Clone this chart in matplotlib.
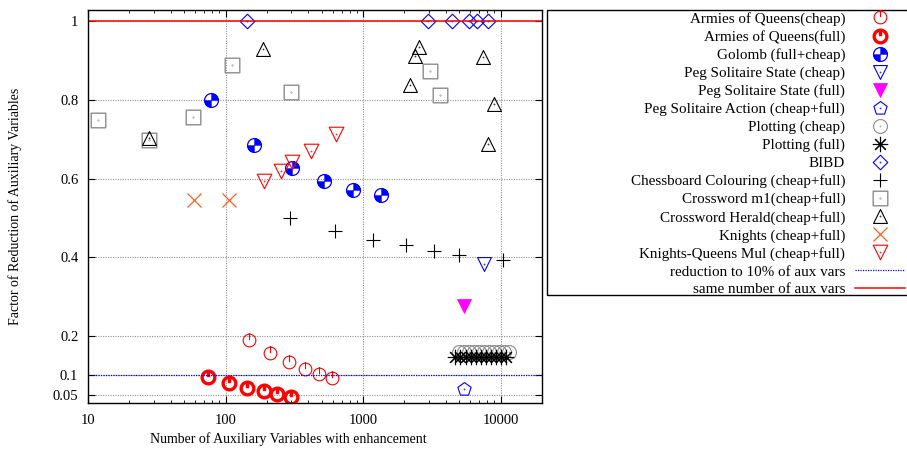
import numpy as np
import matplotlib
matplotlib.use("Agg")
import matplotlib.pyplot as plt
from matplotlib.path import Path
from matplotlib.patches import Rectangle
from matplotlib.ticker import FixedLocator, FixedFormatter, LogLocator, NullFormatter

plt.rcParams['font.family'] = ['Liberation Serif', 'DejaVu Serif']
plt.rcParams['font.size'] = 10

# ---- data ----
aoq_cheap_x = [149, 212, 291, 380, 481, 598]
aoq_cheap_y = [0.191, 0.158, 0.135, 0.117, 0.104, 0.094]

aoq_full_x = [75, 106, 144, 191, 238, 301]
aoq_full_y = [0.097, 0.081, 0.069, 0.061, 0.053, 0.046]

golomb_x = [79, 162, 306, 524, 851, 1340]
golomb_y = [0.799, 0.684, 0.626, 0.593, 0.570, 0.557]

peg_state_cheap_x = [7530]
peg_state_cheap_y = [0.384]

peg_state_full_x = [5390]
peg_state_full_y = [0.277]

peg_action_x = [5390]
peg_action_y = [0.066]

plot_cheap_x = [4950, 5390, 5860, 6370, 6930, 7530, 8190, 8910, 9680, 10540, 11460]
plot_cheap_y = [0.160] * 11

plot_full_x = [4630, 5040, 5570, 6060, 6590, 7160, 7790, 8470, 9210, 10010, 10890]
plot_full_y = [0.147] * 11

bibd_x = [144, 2944, 4405, 5860, 6700, 8050]
bibd_y = [1.0, 1.0, 1.0, 1.0, 1.0, 1.0]

chess_x = [296, 630, 1190, 2037, 3260, 4950, 10350]
chess_y = [0.501, 0.466, 0.443, 0.430, 0.417, 0.407, 0.394]

cw_m1_x = [11.8, 27.8, 58.2, 112, 301, 3045, 3600]
cw_m1_y = [0.748, 0.697, 0.756, 0.888, 0.819, 0.873, 0.812]

cw_herald_x = [27.8, 188, 2530, 2370, 2180, 7410, 8910, 8050]
cw_herald_y = [0.702, 0.929, 0.934, 0.911, 0.837, 0.908, 0.789, 0.687]

knights_x = [59.2, 106]
knights_y = [0.545, 0.545]

kq_x = [191, 255, 306, 421, 640]
kq_y = [0.593, 0.618, 0.641, 0.669, 0.712]

x_ticks = [10, 100, 1000, 10000]
x_labels = ['10', '100', '1000', '10000']
y_ticks = [0.05, 0.1, 0.2, 0.4, 0.6, 0.8, 1.0]
y_labels = ['0.05', '0.1', '0.2', '0.4', '0.6', '0.8', '1']

# ---- custom gnuplot-like markers ----
MOVE, LINE = Path.MOVETO, Path.LINETO


def with_dot(p):
    return Path.make_compound_path(p, Path.circle((0, 0), 0.04))


circle_tick = Path.make_compound_path(Path.unit_circle(),
                                      Path([(0, 1.15), (0, 0.05)], [MOVE, LINE]))
quadrants = Path.make_compound_path(Path.wedge(0, 90), Path.wedge(180, 270))
circle_dot = with_dot(Path.unit_circle())
square_dot = with_dot(Path([(-1, -1), (1, -1), (1, 1), (-1, 1), (-1, -1)],
                           [MOVE, LINE, LINE, LINE, Path.CLOSEPOLY]))
tri_up_dot = with_dot(Path([(0, 1), (-1, -1), (1, -1), (0, 1)],
                           [MOVE, LINE, LINE, Path.CLOSEPOLY]))
tri_dn_dot = with_dot(Path([(0, -1), (-1, 1), (1, 1), (0, -1)],
                           [MOVE, LINE, LINE, Path.CLOSEPOLY]))
diamond_dot = with_dot(Path([(0, 1), (1, 0), (0, -1), (-1, 0), (0, 1)],
                            [MOVE, LINE, LINE, LINE, Path.CLOSEPOLY]))
ang = np.pi / 2 + np.arange(6) * 2 * np.pi / 5
pent_dot = with_dot(Path(np.column_stack([np.cos(ang), np.sin(ang)]),
                         [MOVE, LINE, LINE, LINE, LINE, Path.CLOSEPOLY]))

RED = '#ff0000'
BLUE = '#0000ff'
GRAY = '#8c8c8c'

fig = plt.figure(figsize=(9.07, 4.49), dpi=100)
ax = fig.add_axes([88 / 907, 1 - 403 / 449, 454 / 907, 393 / 449])

kw = dict(linestyle='none', mfc='none')
handles = []
h = ax.plot(aoq_cheap_x, aoq_cheap_y, marker=circle_tick, ms=10.5, mec=RED, mew=0.8, **kw)[0]
handles.append((h, 'Armies of Queens(cheap)'))
h = ax.plot(aoq_full_x, aoq_full_y, marker=circle_tick, ms=10.5, mec=RED, mew=2.4, **kw)[0]
handles.append((h, 'Armies of Queens(full)'))
h1 = ax.plot(golomb_x, golomb_y, marker=quadrants, ms=10, mec=BLUE, mfc=BLUE,
             mew=0.3, linestyle='none')[0]
h2 = ax.plot(golomb_x, golomb_y, marker='o', ms=10, mec=BLUE, mew=0.9, **kw)[0]
handles.append(((h1, h2), 'Golomb (full+cheap)'))
h = ax.plot(peg_state_cheap_x, peg_state_cheap_y, marker=tri_dn_dot, ms=10, mec=BLUE, mew=0.8, **kw)[0]
handles.append((h, 'Peg Solitaire State (cheap)'))
h = ax.plot(peg_state_full_x, peg_state_full_y, marker='v', ms=10, mec='#ff00ff', mfc='#ff00ff',
            mew=0.5, linestyle='none')[0]
handles.append((h, 'Peg Solitaire State (full)'))
h = ax.plot(peg_action_x, peg_action_y, marker=pent_dot, ms=10, mec=BLUE, mew=0.8, **kw)[0]
handles.append((h, 'Peg Solitaire Action (cheap+full)'))
h = ax.plot(plot_cheap_x, plot_cheap_y, marker=circle_dot, ms=10, mec=GRAY, mew=0.8, **kw)[0]
handles.append((h, 'Plotting (cheap)'))
h = ax.plot(plot_full_x, plot_full_y, marker=(8, 2, 0), ms=11, mec='black', mew=0.8, **kw)[0]
handles.append((h, 'Plotting (full)'))
h = ax.plot(bibd_x, bibd_y, marker=diamond_dot, ms=10.5, mec=BLUE, mew=0.8, **kw)[0]
handles.append((h, 'BIBD'))
h = ax.plot(chess_x, chess_y, marker='+', ms=10, mec='black', mew=0.8, **kw)[0]
handles.append((h, 'Chessboard Colouring (cheap+full)'))
h = ax.plot(cw_m1_x, cw_m1_y, marker=square_dot, ms=10.5, mec=GRAY, mew=1.0, **kw)[0]
handles.append((h, 'Crossword m1(cheap+full)'))
h = ax.plot(cw_herald_x, cw_herald_y, marker=tri_up_dot, ms=10, mec='black', mew=0.8, **kw)[0]
handles.append((h, 'Crossword Herald(cheap+full)'))
h = ax.plot(knights_x, knights_y, marker='x', ms=10.5, mec='#ff6020', mew=0.9, **kw)[0]
handles.append((h, 'Knights (cheap+full)'))
h = ax.plot(kq_x, kq_y, marker=tri_dn_dot, ms=10.5, mec=RED, mew=0.8, **kw)[0]
handles.append((h, 'Knights-Queens Mul (cheap+full)'))
h = ax.axhline(0.1, color=BLUE, lw=0.9, linestyle=(0, (1, 1)))
handles.append((h, 'reduction to 10% of aux vars'))
h = ax.axhline(1.0, color=RED, lw=1.1)
handles.append((h, 'same number of aux vars'))

ax.set_xscale('log')
ax.set_xlim(10, 20000)
ax.set_ylim(0.03, 1.028)
ax.xaxis.set_major_locator(FixedLocator(x_ticks))
ax.xaxis.set_major_formatter(FixedFormatter(x_labels))
ax.xaxis.set_minor_locator(LogLocator(base=10, subs=np.arange(2, 10)))
ax.xaxis.set_minor_formatter(NullFormatter())
ax.yaxis.set_major_locator(FixedLocator(y_ticks))
ax.yaxis.set_major_formatter(FixedFormatter(y_labels))
ax.tick_params(which='both', direction='in', top=True, right=True, labelsize=10.5)
ax.tick_params(which='major', length=5, width=0.8)
ax.tick_params(which='minor', length=2.5, width=0.6)
ax.tick_params(axis='x', pad=8)
ax.tick_params(axis='y', pad=7)
ax.grid(True, which='major', color='#909090', linestyle=(0, (1, 1.2)), lw=0.8)
ax.set_axisbelow(True)
for s in ax.spines.values():
    s.set_linewidth(1.0)

ax.set_xlabel('Number of Auxiliary Variables with enhancement', fontsize=10)
ax.xaxis.set_label_coords((288 - 88) / 454, -(432 - 403) / 393)
ax.set_ylabel('Factor of Reduction of Auxiliary Variables', fontsize=10)
ax.yaxis.set_label_coords((22 - 88) / 454, 0.5)

# legend: right-aligned labels, markers to the right, frame cut by figure edge
leg = fig.legend([h for h, _ in handles], [l for _, l in handles],
                 loc='upper right', bbox_to_anchor=(905 / 907, 1 - 12 / 449),
                 markerfirst=False, frameon=False, borderpad=0, borderaxespad=0,
                 handlelength=3.3, handletextpad=0.65, labelspacing=0.275,
                 fontsize=10.9)
fig.patches.append(Rectangle((547 / 907, 1 - 295 / 449), 0.5, 285 / 449,
                             transform=fig.transFigure, fill=False,
                             edgecolor='black', lw=1.0))

fig.savefig('out.png', dpi=100)
